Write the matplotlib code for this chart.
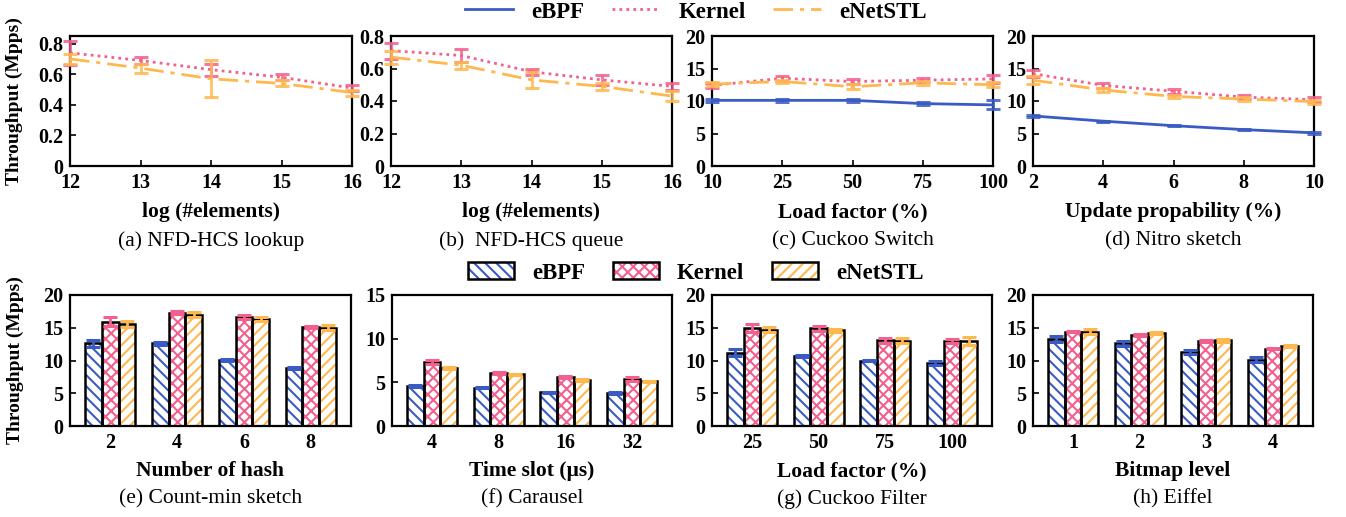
import matplotlib
matplotlib.use("Agg")
import matplotlib.pyplot as plt
from matplotlib.patches import Patch
from matplotlib.lines import Line2D
import numpy as np

plt.rcParams['font.family'] = ['Liberation Serif', 'DejaVu Serif']
plt.rcParams['hatch.linewidth'] = 1.5

BLUE = '#3a5bc4'
PINK = '#f2608e'
ORANGE = '#ffb84f'

# ---- top row data (line plots) ----
a_x = [12, 13, 14, 15, 16]
a_kernel = [0.74, 0.69, 0.63, 0.58, 0.51]
a_kernel_err = [0.08, 0.02, 0.04, 0.02, 0.02]
a_enet = [0.70, 0.64, 0.57, 0.54, 0.48]
a_enet_err = [0.03, 0.03, 0.12, 0.02, 0.02]

b_x = [12, 13, 14, 15, 16]
b_kernel = [0.71, 0.68, 0.58, 0.53, 0.49]
b_kernel_err = [0.05, 0.04, 0.02, 0.03, 0.02]
b_enet = [0.67, 0.62, 0.53, 0.49, 0.43]
b_enet_err = [0.04, 0.02, 0.05, 0.02, 0.03]

c_labels = ['10', '25', '50', '75', '100']
c_ebpf = [10.1, 10.1, 10.1, 9.6, 9.4]
c_ebpf_err = [0.2, 0.2, 0.2, 0.2, 0.7]
c_kernel = [12.4, 13.5, 13.0, 13.2, 13.4]
c_kernel_err = [0.4, 0.4, 0.4, 0.3, 0.6]
c_enet = [12.6, 13.0, 12.2, 12.8, 12.5]
c_enet_err = [0.3, 0.3, 0.4, 0.3, 0.4]

d_x = [2, 4, 6, 8, 10]
d_ebpf = [7.7, 6.9, 6.2, 5.6, 5.1]
d_ebpf_err = [0.1, 0.1, 0.1, 0.1, 0.1]
d_kernel = [14.2, 12.4, 11.5, 10.6, 10.2]
d_kernel_err = [0.5, 0.4, 0.4, 0.3, 0.4]
d_enet = [13.2, 11.7, 10.7, 10.3, 9.9]
d_enet_err = [0.6, 0.3, 0.3, 0.3, 0.3]

# ---- bottom row data (bar charts) ----
e_labels = ['2', '4', '6', '8']
e_ebpf = [12.6, 12.6, 10.1, 8.8]
e_ebpf_err = [0.5, 0.2, 0.2, 0.15]
e_kernel = [15.9, 17.3, 16.6, 15.1]
e_kernel_err = [0.7, 0.2, 0.3, 0.2]
e_enet = [15.6, 17.0, 16.3, 15.0]
e_enet_err = [0.5, 0.4, 0.3, 0.4]

f_labels = ['4', '8', '16', '32']
f_ebpf = [4.55, 4.4, 3.85, 3.75]
f_ebpf_err = [0.1, 0.1, 0.1, 0.1]
f_kernel = [7.3, 6.05, 5.6, 5.4]
f_kernel_err = [0.25, 0.15, 0.1, 0.2]
f_enet = [6.65, 5.9, 5.3, 5.1]
f_enet_err = [0.15, 0.1, 0.1, 0.1]

g_labels = ['25', '50', '75', '100']
g_ebpf = [11.2, 10.7, 10.0, 9.6]
g_ebpf_err = [0.5, 0.2, 0.1, 0.3]
g_kernel = [14.9, 14.9, 13.1, 13.0]
g_kernel_err = [0.6, 0.4, 0.4, 0.3]
g_enet = [14.7, 14.6, 13.0, 13.0]
g_enet_err = [0.4, 0.2, 0.4, 0.6]

h_labels = ['1', '2', '3', '4']
h_ebpf = [13.3, 12.6, 11.3, 10.1]
h_ebpf_err = [0.4, 0.4, 0.3, 0.4]
h_kernel = [14.4, 13.9, 13.0, 11.8]
h_kernel_err = [0.1, 0.1, 0.1, 0.1]
h_enet = [14.4, 14.2, 13.1, 12.2]
h_enet_err = [0.4, 0.2, 0.2, 0.1]

TICK_FS = 14.5
LABEL_FS = 15.5
LEG_FS = 16.5

W, H = 1346, 517
fig = plt.figure(figsize=(W / 100, H / 100), dpi=100)


def make_ax(x0, x1, ytop, ybot):
    return fig.add_axes([x0 / W, 1 - ybot / H, (x1 - x0) / W, (ybot - ytop) / H])


def style(ax, xlabel, caption, top_row=True):
    for s in ax.spines.values():
        s.set_linewidth(1.6)
    ax.tick_params(direction='in', labelsize=TICK_FS, width=1.2, length=4, pad=5)
    for lab in ax.get_xticklabels() + ax.get_yticklabels():
        lab.set_fontweight('bold')
    ax.set_xlabel(xlabel, fontsize=LABEL_FS, fontweight='bold')
    if top_row:
        ax.xaxis.set_label_coords(0.5, -0.28)
        ax.text(0.5, -0.575, caption, transform=ax.transAxes, ha='center', va='center', fontsize=LABEL_FS)
    else:
        ax.xaxis.set_label_coords(0.5, -0.27)
        ax.text(0.5, -0.555, caption, transform=ax.transAxes, ha='center', va='center', fontsize=LABEL_FS)


def draw_line(ax, x, y, err, color, ls, lw=2.0):
    ax.plot(x, y, color=color, linestyle=ls, linewidth=lw, zorder=3)
    ax.errorbar(x, y, yerr=err, fmt='none', ecolor=color, elinewidth=2, capsize=5,
                capthick=2.2, alpha=0.85, zorder=3, clip_on=False)


DASHDOT = (0, (7, 2.5, 1.5, 2.5))
DOT = (0, (1, 1.5))

# (a)
ax = make_ax(70, 352, 36, 166)
draw_line(ax, a_x, a_kernel, a_kernel_err, PINK, DOT)
draw_line(ax, a_x, a_enet, a_enet_err, ORANGE, DASHDOT)
ax.set_xlim(12, 16)
ax.set_ylim(0, 0.85)
ax.set_xticks(a_x)
ax.set_yticks([0, 0.2, 0.4, 0.6, 0.8])
ax.set_yticklabels(['0', '0.2', '0.4', '0.6', '0.8'])
style(ax, 'log (#elements)', '(a) NFD-HCS lookup')
ax.set_ylabel('Throughput (Mpps)', fontsize=14, fontweight='bold')
ax.yaxis.set_label_coords(-0.165, 0.5)

# (b)
ax = make_ax(391, 672, 36, 166)
draw_line(ax, b_x, b_kernel, b_kernel_err, PINK, DOT)
draw_line(ax, b_x, b_enet, b_enet_err, ORANGE, DASHDOT)
ax.set_xlim(12, 16)
ax.set_ylim(0, 0.8)
ax.set_xticks(b_x)
ax.set_yticks([0, 0.2, 0.4, 0.6, 0.8])
ax.set_yticklabels(['0', '0.2', '0.4', '0.6', '0.8'])
style(ax, 'log (#elements)', '(b)  NFD-HCS queue')

# (c)
ax = make_ax(712, 993, 36, 166)
cx = np.arange(len(c_labels))
draw_line(ax, cx, c_ebpf, c_ebpf_err, BLUE, '-')
draw_line(ax, cx, c_kernel, c_kernel_err, PINK, DOT)
draw_line(ax, cx, c_enet, c_enet_err, ORANGE, DASHDOT)
ax.set_xlim(0, len(c_labels) - 1)
ax.set_ylim(0, 20)
ax.set_xticks(cx)
ax.set_xticklabels(c_labels)
ax.set_yticks([0, 5, 10, 15, 20])
style(ax, 'Load factor (%)', '(c) Cuckoo Switch')

# (d)
ax = make_ax(1033, 1314, 36, 166)
draw_line(ax, d_x, d_ebpf, d_ebpf_err, BLUE, '-')
draw_line(ax, d_x, d_kernel, d_kernel_err, PINK, DOT)
draw_line(ax, d_x, d_enet, d_enet_err, ORANGE, DASHDOT)
ax.set_xlim(2, 10)
ax.set_ylim(0, 20)
ax.set_xticks(d_x)
ax.set_yticks([0, 5, 10, 15, 20])
style(ax, 'Update propability (%)', '(d) Nitro sketch')

HATCHES = ['\\\\\\', 'xxx', '///']
COLORS = [BLUE, PINK, ORANGE]


# bottom row
def draw_bars(ax, labels, series, errs, ylim, yticks):
    x = np.arange(len(labels))
    w = 0.25
    for i, (vals, err) in enumerate(zip(series, errs)):
        pos = x + (i - 1) * w
        ax.bar(pos, vals, w, color='white', edgecolor=COLORS[i], hatch=HATCHES[i], linewidth=0, zorder=2)
        ax.bar(pos, vals, w, fill=False, edgecolor='black', linewidth=1.8, zorder=3)
        ax.errorbar(pos, vals, yerr=err, fmt='none', ecolor=COLORS[i], elinewidth=2,
                    capsize=5, capthick=2.2, zorder=4)
    ax.set_xlim(-0.6, len(labels) - 0.4)
    ax.set_ylim(*ylim)
    ax.set_xticks(x)
    ax.set_xticklabels(labels)
    ax.set_yticks(yticks)


ax = make_ax(70, 351, 295, 426)
draw_bars(ax, e_labels, [e_ebpf, e_kernel, e_enet], [e_ebpf_err, e_kernel_err, e_enet_err],
          (0, 20), [0, 5, 10, 15, 20])
style(ax, 'Number of hash', '(e) Count-min sketch', top_row=False)
ax.tick_params(axis='x', length=0)
ax.set_ylabel('Throughput (Mpps)', fontsize=14, fontweight='bold')
ax.yaxis.set_label_coords(-0.165, 0.5)

ax = make_ax(392, 672, 295, 426)
draw_bars(ax, f_labels, [f_ebpf, f_kernel, f_enet], [f_ebpf_err, f_kernel_err, f_enet_err],
          (0, 15), [0, 5, 10, 15])
style(ax, 'Time slot (\u00b5s)', '(f) Carausel', top_row=False)
ax.tick_params(axis='x', length=0)

ax = make_ax(712, 992, 295, 426)
draw_bars(ax, g_labels, [g_ebpf, g_kernel, g_enet], [g_ebpf_err, g_kernel_err, g_enet_err],
          (0, 20), [0, 5, 10, 15, 20])
style(ax, 'Load factor (%)', '(g) Cuckoo Filter', top_row=False)
ax.tick_params(axis='x', length=0)

ax = make_ax(1033, 1313, 295, 426)
draw_bars(ax, h_labels, [h_ebpf, h_kernel, h_enet], [h_ebpf_err, h_kernel_err, h_enet_err],
          (0, 20), [0, 5, 10, 15, 20])
style(ax, 'Bitmap level', '(h) Eiffel', top_row=False)
ax.tick_params(axis='x', length=0)

# legends
names = ['eBPF', 'Kernel', 'eNetSTL']
line_handles = [Line2D([], [], color=BLUE, lw=2.0, ls='-'),
                Line2D([], [], color=PINK, lw=2.0, ls=DOT),
                Line2D([], [], color=ORANGE, lw=2.0, ls=DASHDOT)]
fig.legend(line_handles, names, loc='center', bbox_to_anchor=(696 / W, 1 - 12 / H), ncol=3,
           frameon=False, prop={'size': LEG_FS, 'weight': 'bold'}, handlelength=2.1,
           handletextpad=0.8, columnspacing=1.2)

bar_handles = []
for c, h in zip(COLORS, HATCHES):
    bar_handles.append((Patch(facecolor='white', edgecolor=c, hatch=h, linewidth=0),
                        Patch(fill=False, edgecolor='black', linewidth=1.8)))
fig.legend(bar_handles, names, loc='center', bbox_to_anchor=(696 / W, 1 - 273 / H), ncol=3,
           frameon=False, prop={'size': LEG_FS, 'weight': 'bold'}, handlelength=2.0,
           handleheight=0.75, handletextpad=0.8, columnspacing=1.2)

fig.savefig('out.png', dpi=100)
